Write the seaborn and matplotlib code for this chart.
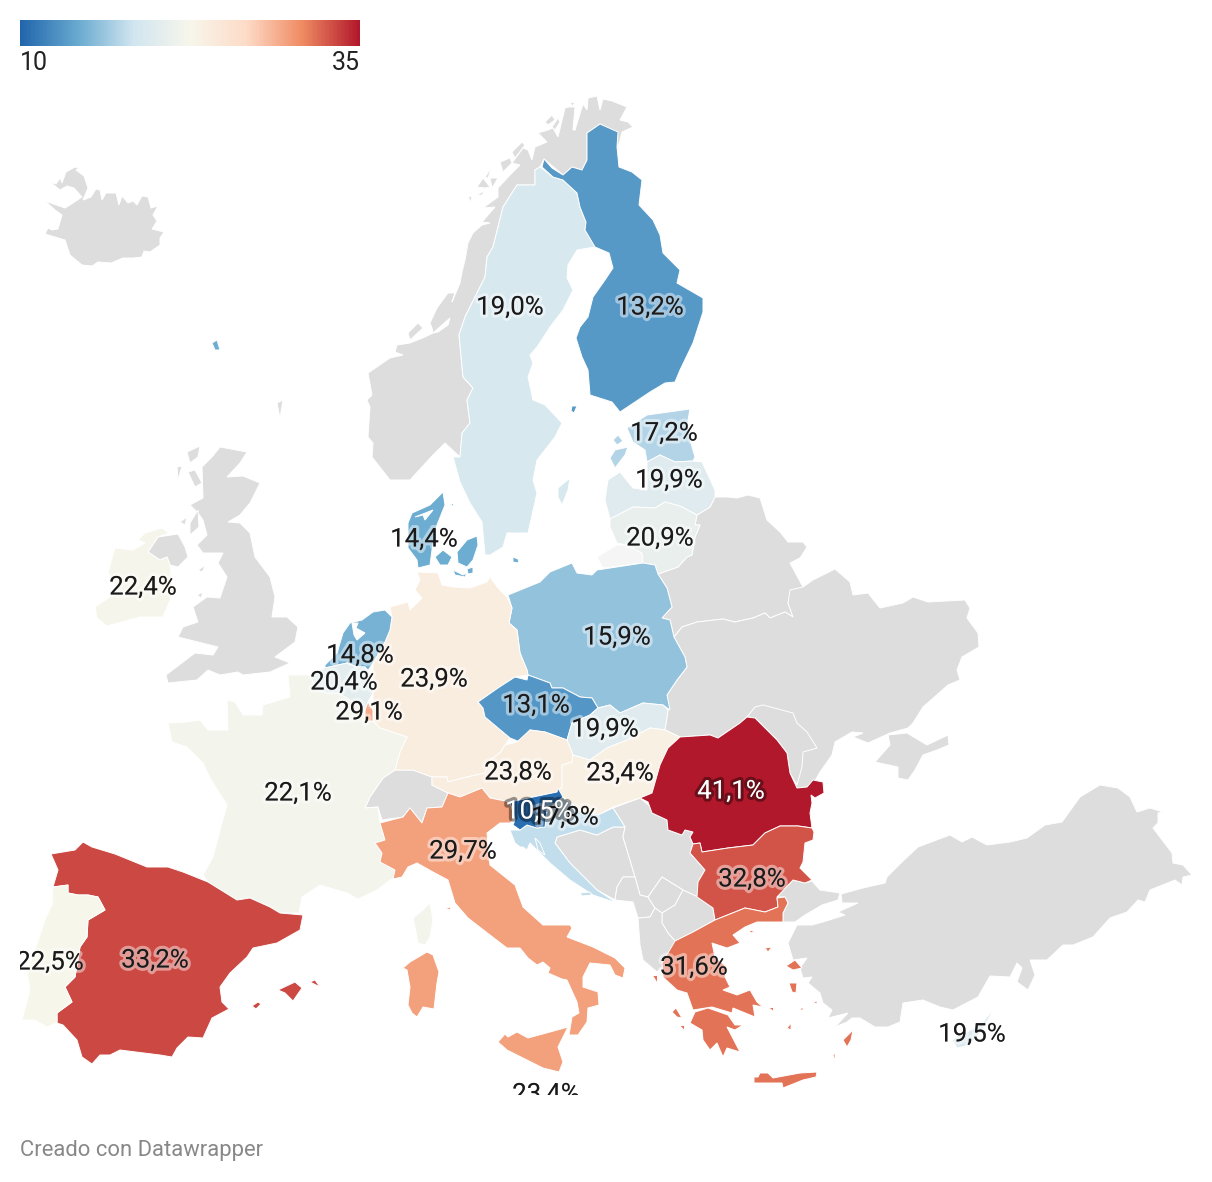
import numpy as np
import matplotlib
matplotlib.use("Agg")
import matplotlib.pyplot as plt
import matplotlib.patheffects as pe
from matplotlib.patches import Rectangle
from matplotlib.colors import Normalize
import seaborn as sns

# colour scale of the legend
SCALE_MIN = 10
SCALE_MAX = 35
SCALE_COLORS = ["#2166ac", "#67a9cf", "#d1e5f0", "#f7f6eb", "#fddbc7", "#ef8a62", "#b2182b"]
GREY = "#dddddd"

# values per country
FINLAND_V = 13.2
SWEDEN_V = 19.0
ESTONIA_V = 17.2
LATVIA_V = 19.9
LITHUANIA_V = 20.9
DENMARK_V = 14.4
IRELAND_V = 22.4
POLAND_V = 15.9
NETHERLANDS_V = 14.8
BELGIUM_V = 20.4
GERMANY_V = 23.9
LUXEMBOURG_V = 29.1
CZECHIA_V = 13.1
SLOVAKIA_V = 19.9
AUSTRIA_V = 23.8
HUNGARY_V = 23.4
ROMANIA_V = 41.1
SLOVENIA_V = 10.5
CROATIA_V = 17.8
FRANCE_V = 22.1
ITALY_V = 29.7
BULGARIA_V = 32.8
SPAIN_V = 33.2
PORTUGAL_V = 22.5
GREECE_V = 31.6
CYPRUS_V = 19.5
MALTA_V = 23.4

# outlines
ICELAND = [[(50,182),(56,184),(60,178),(62,183),(66,172),(75,167),(79,168),(76,170),(84,176),(88,188),(83,200),(91,197),(96,189),(100,190),(102,200),(106,193),(116,193),(119,205),(122,196),(128,203),(133,201),(137,205),(142,196),(148,197),(151,208),(158,206),(153,215),(157,221),(152,229),(164,232),(160,238),(160,245),(150,252),(144,251),(142,257),(134,258),(123,258),(111,263),(98,262),(92,266),(82,265),(70,255),(65,240),(45,234),(48,228),(52,230),(58,229),(62,215),(55,210),(45,201),(65,208),(70,205),(82,197),(74,188),(67,186),(60,190)]]
NORWAY = [[(618,148),(617,133),(600,124),(587,133),(587,160),(582,170),(572,167),(563,175),(544,159),(540,167),(535,170),(535,185),(517,185),(503,207),(493,247),(487,257),(485,277),(465,317),(459,335),(463,377),(473,388),(467,400),(470,423),(462,433),(460,457),(445,443),(433,455),(410,480),(390,480),(372,457),(373,443),(368,437),(370,407),(367,400),(372,395),(368,373),(390,358),(403,355),(395,352),(397,345),(410,343),(425,337),(433,333),(432,328),(430,323),(437,308),(448,293),(455,293),(452,302),(460,283),(462,272),(465,260),(468,243),(473,233),(482,225),(490,223),(482,222),(495,207),(483,208),(498,197),(498,188),(510,175),(520,165),(512,163),(523,148),(528,150),(532,160),(535,147),(547,142),(538,133),(548,130),(553,128),(558,137),(565,108),(568,107),(575,107),(573,130),(575,130),(583,104),(587,110),(588,98),(597,96),(600,110),(603,99),(612,101),(627,107),(620,120),(628,122),(633,127),(622,132)],
          [(468,197),(472,196),(471,202)],
          [(476,196),(485,190),(482,195)],
          [(477,187),(483,178),(490,187),(485,188)],
          [(485,177),(492,167),(488,178)],
          [(490,178),(498,178),(492,188)],
          [(500,162),(510,158),(512,163),(503,172)],
          [(512,152),(522,142),(525,145),(515,158)],
          [(545,122),(552,115),(555,120),(548,125)],
          [(552,127),(558,118),(560,122),(555,130)],
          [(570,102),(575,103),(572,106)],
          [(408,333),(418,323),(423,328),(410,340)]]
SWEDEN = [[(540,167),(553,177),(563,180),(577,193),(580,207),(586,222),(585,230),(595,247),(577,250),(568,265),(567,278),(573,290),(563,310),(550,327),(537,347),(530,355),(533,363),(528,377),(533,400),(545,405),(562,423),(555,437),(537,460),(533,480),(537,493),(528,533),(507,533),(503,547),(490,555),(485,555),(482,522),(470,503),(460,482),(453,457),(460,457),(462,433),(470,423),(467,400),(473,388),(463,377),(459,335),(465,317),(485,277),(487,257),(493,247),(503,207),(517,185),(535,185),(535,170)],
          [(558,488),(570,478),(568,490),(562,505),(558,497)],
          [(542,497),(536,525),(538,513)]]
FINLAND = [[(542,167),(544,159),(552,168),(563,175),(572,167),(582,170),(587,160),(587,133),(600,124),(618,132),(617,147),(619,167),(632,172),(642,180),(639,205),(653,220),(660,235),(663,253),(680,270),(677,283),(703,298),(703,312),(693,343),(680,370),(675,382),(665,383),(650,392),(620,412),(612,402),(590,395),(588,370),(582,357),(576,338),(580,327),(588,317),(593,297),(605,280),(613,268),(609,253),(595,247),(585,230),(586,222),(580,207),(577,193),(563,180),(553,177)],
           [(572,406),(577,406),(574,413),(571,411)]]
ESTONIA = [[(627,428),(647,415),(690,409),(688,420),(690,440),(695,457),(693,461),(675,462),(660,455),(647,462),(645,450),(633,442)],
           [(613,440),(618,435),(623,441),(617,445)],
           [(610,458),(615,450),(628,447),(625,455),(615,468)]]
LATVIA = [[(647,462),(660,455),(675,462),(693,461),(702,462),(715,490),(715,497),(710,507),(697,515),(680,506),(665,502),(655,508),(633,507),(610,519),(605,500),(608,480),(620,472),(633,488),(647,490)]]
LITHUANIA = [[(610,519),(633,507),(655,508),(665,502),(680,506),(697,515),(695,525),(700,525),(695,537),(692,555),(687,557),(678,567),(658,574),(655,565),(643,563),(642,553),(627,545),(617,543),(610,527)]]
KALININGRAD = [[(597,557),(617,545),(627,545),(642,553),(643,563),(603,568)]]
BELARUS = [[(697,515),(710,507),(715,497),(728,497),(737,498),(748,495),(760,498),(767,520),(780,532),(788,542),(803,542),(807,547),(800,558),(790,563),(803,587),(792,593),(788,603),(793,617),(785,612),(770,618),(765,613),(753,618),(735,622),(723,619),(697,622),(682,627),(674,637),(670,620),(662,618),(672,607),(667,588),(658,574),(678,567),(687,557),(692,555),(695,537),(700,525),(695,525)]]
UKRAINE = [[(674,637),(682,627),(697,622),(723,619),(735,622),(753,618),(765,613),(770,618),(785,612),(793,617),(788,603),(790,590),(803,587),(813,580),(835,569),(850,582),(853,595),(868,593),(880,608),(903,603),(913,597),(928,602),(965,600),(970,608),(967,618),(978,633),(979,647),(962,657),(957,670),(960,680),(948,685),(923,707),(913,723),(908,728),(890,733),(868,743),(853,737),(863,733),(852,732),(835,742),(832,755),(820,772),(815,781),(807,787),(797,788),(790,773),(787,753),(777,740),(755,718),(747,717),(740,723),(718,738),(710,735),(680,737),(665,730),(668,710),(667,695),(677,680),(687,667),(685,657)],
           [(875,762),(890,745),(888,735),(907,733),(927,745),(948,735),(949,745),(937,750),(923,755),(915,770),(908,780),(898,778),(898,767)]]
MOLDOVA = [[(747,717),(755,707),(763,705),(793,713),(797,723),(807,732),(817,748),(803,752),(802,767),(797,785),(790,773),(787,753),(777,740),(755,718)]]
ROMANIA = [[(680,737),(710,735),(718,738),(740,723),(747,717),(755,718),(777,740),(787,753),(790,773),(797,788),(807,787),(813,780),(823,782),(824,793),(815,798),(811,795),(812,803),(810,813),(812,828),(798,826),(780,826),(765,833),(753,845),(728,848),(702,852),(700,843),(693,844),(690,837),(693,832),(685,830),(682,835),(668,830),(667,820),(652,813),(648,802),(640,798),(652,793),(660,765),(668,748)]]
SLOVAKIA = [[(598,708),(610,705),(620,713),(643,703),(663,705),(668,710),(665,730),(650,728),(627,740),(607,748),(590,760),(573,755),(567,740),(572,723),(590,715)]]
CZECHIA = [[(478,702),(498,688),(515,677),(527,680),(528,675),(550,683),(552,688),(563,688),(580,697),(592,698),(598,708),(590,715),(572,723),(567,740),(545,732),(530,730),(520,742),(510,738),(485,717),(483,708)]]
POLAND = [[(508,595),(540,582),(550,572),(572,563),(577,573),(592,575),(597,570),(643,563),(655,565),(658,574),(667,588),(672,607),(662,618),(670,620),(674,637),(685,657),(687,667),(677,680),(667,695),(670,710),(663,705),(643,703),(620,713),(610,705),(598,708),(592,698),(580,697),(563,688),(552,688),(550,683),(528,675),(527,670),(520,653),(517,630),(509,623),(512,608)]]
GERMANY = [[(417,572),(438,573),(442,585),(453,587),(470,588),(487,582),(490,577),(498,588),(507,597),(512,608),(509,623),(517,630),(520,653),(527,670),(528,675),(515,677),(498,688),(478,702),(483,708),(485,717),(510,738),(505,745),(500,753),(490,760),(485,773),(463,778),(448,782),(447,777),(432,777),(413,770),(395,770),(400,752),(407,737),(380,728),(373,721),(373,693),(373,663),(385,642),(390,630),(392,617),(390,607),(408,602),(410,610),(422,598),(415,590),(420,580)]]
LUXEMBOURG = [[(365,710),(368,702),(373,710),(373,721),(365,721)]]
NETHERLANDS = [[(362,620),(373,612),(385,610),(392,617),(390,630),(385,642),(373,663),(367,672),(365,667),(357,667),(347,663),(325,668),(325,665),(337,653),(343,633),(350,623)]]
BELGIUM = [[(310,675),(325,668),(347,663),(357,667),(365,667),(369,672),(373,687),(373,693),(368,702),(365,710),(347,698),(338,693),(327,693),(317,690)]]
FRANCE = [[(288,675),(310,675),(317,690),(327,693),(338,693),(347,698),(365,710),(365,721),(373,721),(380,728),(407,737),(400,752),(395,770),(383,778),(370,797),(365,808),(378,807),(380,823),(385,840),(375,843),(382,853),(380,862),(395,870),(393,879),(390,880),(377,890),(358,899),(347,893),(320,885),(302,897),(299,913),(280,913),(270,907),(250,898),(237,900),(208,882),(203,875),(213,857),(222,823),(227,805),(210,778),(203,763),(187,747),(172,742),(168,723),(187,722),(200,720),(208,730),(228,730),(227,700),(235,702),(243,715),(262,715),(263,705),(290,697)],
          [(430,903),(433,920),(430,937),(425,945),(418,943),(416,932),(413,918),(423,910)]]
SWITZERLAND = [[(365,808),(370,797),(383,778),(395,770),(413,770),(432,777),(432,785),(448,793),(442,807),(427,808),(422,823),(410,808),(403,817),(382,820),(378,807)]]
AUSTRIA = [[(517,742),(530,730),(545,732),(567,740),(573,755),(572,762),(562,765),(562,787),(557,792),(533,797),(510,802),(490,798),(482,788),(460,797),(448,793),(432,785),(432,777),(447,777),(448,782),(463,778),(485,773),(490,760),(500,753),(505,745)]]
HUNGARY = [[(573,755),(590,760),(607,748),(627,740),(650,728),(665,730),(680,737),(668,748),(660,765),(652,793),(640,798),(613,807),(598,815),(583,813),(563,797),(557,792),(562,787),(562,765),(572,762)]]
SLOVENIA = [[(510,802),(533,797),(557,792),(558,788),(563,797),(557,802),(547,810),(545,827),(537,828),(527,825),(520,830),(513,825),(515,820),(513,812)]]
CROATIA = [[(510,830),(520,830),(527,825),(537,828),(545,827),(547,810),(557,802),(563,797),(583,813),(598,815),(613,808),(625,827),(613,827),(597,835),(580,830),(557,837),(555,843),(570,863),(597,890),(617,903),(593,895),(570,880),(550,863),(540,853),(530,843),(527,850),(523,847),(520,847),(515,843)],
           [(535,838),(540,843),(545,855),(538,850)],
           [(580,893),(590,892),(592,895),(582,896)]]
BOSNIA = [[(555,843),(557,837),(580,830),(597,835),(613,827),(625,827),(623,837),(627,850),(635,877),(623,877),(617,887),(615,900),(597,890),(570,863)]]
SERBIA = [[(640,798),(652,808),(652,813),(667,820),(668,830),(682,835),(685,830),(693,832),(690,837),(693,844),(690,853),(705,870),(698,882),(698,897),(683,890),(662,877),(648,897),(640,895),(635,877),(627,850),(623,837),(625,827),(613,808)]]
MONTENEGRO = [[(635,877),(640,895),(648,897),(655,908),(650,917),(638,918),(633,902),(615,900),(617,887),(623,877)]]
KOSOVO = [[(648,897),(662,877),(683,890),(675,905),(662,913),(655,908)]]
MACEDONIA = [[(662,913),(675,905),(683,890),(698,897),(713,908),(715,920),(693,932),(675,941),(668,933),(662,923)]]
ALBANIA = [[(638,918),(650,917),(655,908),(662,913),(662,923),(668,933),(675,941),(672,950),(663,967),(657,972),(643,960),(640,945)]]
BULGARIA = [[(702,852),(728,848),(753,845),(765,833),(780,826),(798,826),(812,828),(814,832),(813,840),(805,843),(803,862),(800,868),(812,880),(805,883),(793,880),(777,897),(778,907),(765,912),(745,908),(715,920),(713,908),(697,897),(698,882),(705,870),(690,853),(693,844),(700,843)]]
GREECE = [[(675,941),(693,932),(715,920),(745,908),(765,912),(778,907),(777,898),(785,897),(788,903),(783,913),(783,922),(757,922),(745,927),(733,935),(740,943),(727,948),(712,943),(715,957),(727,967),(725,977),(730,987),(723,990),(737,995),(750,990),(757,1002),(763,1007),(753,1005),(755,1017),(733,1008),(732,1013),(712,1007),(693,1010),(687,993),(677,990),(663,977),(662,963)],
          [(695,1012),(708,1008),(728,1015),(735,1025),(743,1025),(735,1030),(727,1027),(740,1052),(727,1048),(723,1057),(717,1043),(710,1050),(703,1040),(702,1030),(690,1023)],
          [(754,1077),(758,1077),(760,1073),(768,1073),(773,1078),(800,1073),(817,1072),(816,1077),(803,1080),(783,1088),(782,1083),(754,1083)],
          [(786,966),(795,960),(802,968),(793,970)],
          [(789,983),(797,983),(796,993),(792,992)],
          [(843,1040),(853,1030),(851,1040),(847,1047)],
          [(652,975),(657,975),(657,983)],
          [(672,1012),(676,1008),(682,1018),(677,1017)],
          [(679,1025),(684,1025),(684,1030)],
          [(833,1055),(835,1053),(835,1062)],
          [(813,1002),(817,1001),(817,1004)],
          [(787,1028),(791,1023),(791,1030)],
          [(750,930),(755,932),(750,933)],
          [(765,948),(772,947),(768,952)],
          [(768,1007),(773,1007),(773,1011)],
          [(799,1010),(803,1007),(803,1010)],
          [(825,1027),(828,1023),(824,1029)]]
TURKEY = [[(777,897),(793,880),(805,883),(812,881),(820,890),(840,893),(838,900),(822,905),(805,915),(795,922),(783,922),(783,913),(788,903),(785,897)],
          [(841,894),(863,888),(885,883),(887,877),(902,862),(918,847),(950,835),(962,842),(972,837),(987,845),(1010,842),(1027,838),(1045,825),(1062,822),(1080,797),(1100,785),(1118,788),(1130,797),(1137,812),(1150,808),(1163,812),(1158,813),(1158,823),(1153,828),(1172,853),(1173,863),(1183,865),(1192,875),(1183,877),(1182,885),(1175,880),(1150,890),(1145,902),(1138,900),(1127,912),(1110,918),(1093,937),(1073,945),(1063,945),(1047,960),(1030,960),(1035,975),(1028,990),(1017,982),(1022,968),(1017,963),(1010,977),(990,976),(978,997),(953,1010),(940,1007),(923,1000),(903,1003),(900,1022),(888,1027),(875,1027),(860,1018),(852,1018),(847,1022),(835,1027),(848,1013),(828,1018),(832,1010),(823,1003),(820,993),(808,983),(812,977),(803,978),(800,968),(807,958),(793,960),(788,943),(797,925),(812,925),(823,922),(845,915),(838,912),(858,903),(842,903)]]
CYPRUS = [[(995,1008),(980,1025),(952,1040),(957,1048),(970,1045),(980,1033)]]
BRITAIN = [[(220,447),(247,452),(240,463),(227,477),(243,476),(260,483),(250,503),(240,515),(228,522),(240,523),(250,533),(255,557),(270,577),(275,597),(272,617),(287,617),(298,627),(295,642),(275,657),(290,663),(270,672),(243,675),(238,672),(220,675),(208,670),(197,680),(168,683),(166,675),(195,653),(213,655),(218,647),(198,642),(178,637),(183,627),(198,622),(193,607),(207,597),(220,598),(227,577),(218,563),(223,553),(203,553),(197,545),(207,535),(203,520),(198,513),(190,505),(203,498),(202,467),(212,457)],
           [(177,467),(182,466),(178,480)],
           [(187,452),(200,446),(198,457),(190,463)],
           [(188,472),(195,470),(202,483),(195,487)],
           [(180,522),(187,517),(185,525)],
           [(190,523),(198,510),(199,527),(190,535)],
           [(277,403),(283,400),(280,418)],
           [(198,570),(206,565),(202,572)],
           [(197,595),(203,592),(201,598)]]
NORTHERN_IRELAND = [[(148,552),(158,537),(178,534),(185,547),(188,557),(178,567),(170,565),(167,557),(160,560)]]
IRELAND = [[(145,533),(162,528),(169,533),(158,537),(148,552),(160,560),(167,557),(170,565),(173,593),(163,617),(140,617),(107,626),(97,618),(95,607),(110,597),(120,593),(108,572),(115,548),(133,550),(145,543),(138,540)]]
DENMARK = [[(443,492),(445,505),(437,525),(432,550),(430,565),(418,568),(417,560),(408,548),(408,523),(412,513),(430,505)],
           [(435,557),(443,550),(452,557),(448,565),(440,565)],
           [(457,552),(467,540),(477,536),(478,545),(473,560),(467,567),(458,563)],
           [(453,570),(463,575),(467,573),(465,577),(455,575)],
           [(467,569),(473,567),(473,573),(468,574)],
           [(513,557),(518,559),(519,563),(513,562)],
           [(450,505),(454,503),(453,506)],
           [(212,343),(217,340),(220,350),(215,350)]]
SPAIN = [[(51,854),(75,850),(83,842),(92,847),(115,854),(147,867),(168,867),(183,872),(208,882),(237,900),(250,898),(270,907),(280,913),(303,915),(300,930),(277,943),(253,948),(247,957),(230,973),(220,987),(222,1002),(229,1009),(212,1018),(203,1038),(188,1037),(177,1048),(172,1057),(160,1055),(120,1050),(110,1055),(100,1055),(92,1064),(82,1057),(77,1040),(63,1025),(57,1023),(57,1013),(72,1002),(65,987),(75,977),(80,947),(87,937),(88,920),(105,910),(98,897),(88,895),(78,895),(68,893),(68,885),(53,887),(58,870)],
         [(278,990),(295,982),(302,988),(293,1001),(285,993)],
         [(310,982),(315,980),(320,987)],
         [(252,1006),(258,1002),(261,1004),(256,1009)]]
ANDORRA = [[(266,907),(272,906),(271,910)]]
PORTUGAL = [[(53,887),(68,885),(68,893),(78,895),(88,895),(98,897),(105,910),(88,920),(87,937),(80,947),(75,977),(65,987),(72,1002),(57,1013),(57,1023),(47,1027),(35,1020),(22,1020),(30,990),(27,972),(35,950),(45,920),(52,905)]]
ITALY = [[(380,823),(403,817),(410,808),(422,823),(427,808),(442,807),(448,793),(460,797),(482,788),(490,798),(510,802),(513,812),(513,820),(510,823),(500,823),(487,833),(488,847),(490,865),(515,885),(523,907),(543,925),(570,925),(572,928),(567,937),(593,947),(615,958),(625,968),(623,978),(615,975),(610,965),(590,963),(583,977),(583,987),(598,992),(599,1005),(588,1008),(587,1022),(578,1035),(569,1035),(572,1017),(579,1013),(577,1002),(567,980),(562,979),(548,973),(550,968),(543,962),(537,965),(528,958),(520,948),(507,948),(490,935),(468,918),(455,903),(448,880),(433,872),(417,863),(408,867),(402,877),(393,879),(395,870),(380,862),(382,853),(375,843),(385,840)],
         [(498,1042),(505,1034),(508,1037),(517,1032),(528,1038),(550,1032),(568,1027),(558,1047),(563,1062),(559,1072),(543,1068),(527,1060),(507,1050)],
         [(403,968),(410,962),(427,952),(433,955),(439,972),(437,983),(434,1009),(423,1007),(417,1017),(412,1013),(408,1005),(410,987),(407,970)],
         [(445,908),(451,907),(450,910)]]
# water cut out of the land
INLAND_WATER = [[(352,623),(358,623),(356,628),(365,633),(357,640),(354,635)],
                [(415,517),(433,510),(425,520),(423,515)],
                [(433,333),(450,318),(448,325),(438,332)]]

# grey (no data) countries are drawn first
NO_DATA = [ICELAND, NORWAY, BELARUS, UKRAINE, MOLDOVA, SWITZERLAND, BOSNIA, SERBIA, MONTENEGRO,
           KOSOVO, MACEDONIA, ALBANIA, TURKEY, BRITAIN, NORTHERN_IRELAND, ANDORRA]
WITH_DATA = [(SWEDEN, SWEDEN_V), (FINLAND, FINLAND_V), (ESTONIA, ESTONIA_V), (LATVIA, LATVIA_V),
             (LITHUANIA, LITHUANIA_V), (DENMARK, DENMARK_V), (IRELAND, IRELAND_V), (POLAND, POLAND_V),
             (GERMANY, GERMANY_V), (FRANCE, FRANCE_V), (NETHERLANDS, NETHERLANDS_V), (BELGIUM, BELGIUM_V),
             (LUXEMBOURG, LUXEMBOURG_V), (CZECHIA, CZECHIA_V), (SLOVAKIA, SLOVAKIA_V), (AUSTRIA, AUSTRIA_V),
             (HUNGARY, HUNGARY_V), (ROMANIA, ROMANIA_V), (CROATIA, CROATIA_V), (ITALY, ITALY_V),
             (SLOVENIA, SLOVENIA_V), (BULGARIA, BULGARIA_V), (SPAIN, SPAIN_V), (PORTUGAL, PORTUGAL_V),
             (GREECE, GREECE_V), (CYPRUS, CYPRUS_V)]

# labels: value and where it sits
LABEL_VALUES = [SWEDEN_V, FINLAND_V, ESTONIA_V, LATVIA_V, LITHUANIA_V, DENMARK_V, IRELAND_V, POLAND_V,
                NETHERLANDS_V, BELGIUM_V, GERMANY_V, LUXEMBOURG_V, CZECHIA_V, SLOVAKIA_V, AUSTRIA_V,
                HUNGARY_V, ROMANIA_V, CROATIA_V, SLOVENIA_V, FRANCE_V, ITALY_V, BULGARIA_V, SPAIN_V,
                PORTUGAL_V, GREECE_V, CYPRUS_V, MALTA_V]
LABEL_X = [510, 650, 664, 669, 660, 424, 143, 617, 360, 344, 434, 369, 536, 605, 518, 620, 731, 565, 539,
           298, 463, 752, 155, 50, 694, 972, 546]
LABEL_Y = [305, 305, 431, 478, 536, 537, 585, 635, 653, 680, 677, 710, 703, 727, 770, 771, 789, 815, 809,
           791, 849, 877, 958, 960, 965, 1032, 1092]

sns.set_theme(style="white")
plt.rcParams["font.family"] = ["Roboto", "DejaVu Sans"]

cmap = sns.blend_palette(SCALE_COLORS, as_cmap=True)
norm = Normalize(SCALE_MIN, SCALE_MAX, clip=True)

fig = plt.figure(figsize=(12.12, 11.82), dpi=100)
ax = fig.add_axes([0, 0, 1, 1])
ax.set_xlim(0, 1212)
ax.set_ylim(1182, 0)
ax.axis("off")


def draw_country(parts, color, zorder):
    for part in parts:
        xs, ys = zip(*part)
        ax.fill(xs, ys, facecolor=color, edgecolor="white", linewidth=0.7, zorder=zorder)


for parts in NO_DATA:
    draw_country(parts, GREY, 1)
draw_country(KALININGRAD, "#f5f5f5", 1)
for parts, value in WITH_DATA:
    draw_country(parts, cmap(norm(value)), 2)
draw_country(INLAND_WATER, "white", 3)

# value labels, cut off at the edge of the map frame
frame = Rectangle((20, 0), 1192, 1095, transform=ax.transData)
for value, x, y in zip(LABEL_VALUES, LABEL_X, LABEL_Y):
    dark_fill = value > 35 or value < 11
    color = "white" if dark_fill else "#1a1a1a"
    halo = (0, 0, 0, 0.4) if dark_fill else (1, 1, 1, 0.45)
    t = ax.text(x, y, f"{value:.1f}%".replace(".", ","), ha="center", va="center_baseline",
                fontsize=18.6, color=color, zorder=5,
                path_effects=[pe.withStroke(linewidth=4.5, foreground=halo)])
    t.set_clip_path(frame)
    t.set_clip_on(True)

# gradient legend
cax = fig.add_axes([20 / 1212, 1 - 46 / 1182, 340 / 1212, 26 / 1182])
sns.heatmap(np.linspace(SCALE_MIN, SCALE_MAX, 340).reshape(1, -1), cmap=cmap, vmin=SCALE_MIN, vmax=SCALE_MAX,
            cbar=False, xticklabels=False, yticklabels=False, ax=cax)
ax.text(20, 61, str(SCALE_MIN), ha="left", va="center_baseline", fontsize=18, color="#222222")
ax.text(360, 61, str(SCALE_MAX), ha="right", va="center_baseline", fontsize=18, color="#222222")

ax.text(20, 1148, "Creado con Datawrapper", ha="left", va="center_baseline", fontsize=15.8, color="#888888")

fig.savefig("out.png", dpi=100)
